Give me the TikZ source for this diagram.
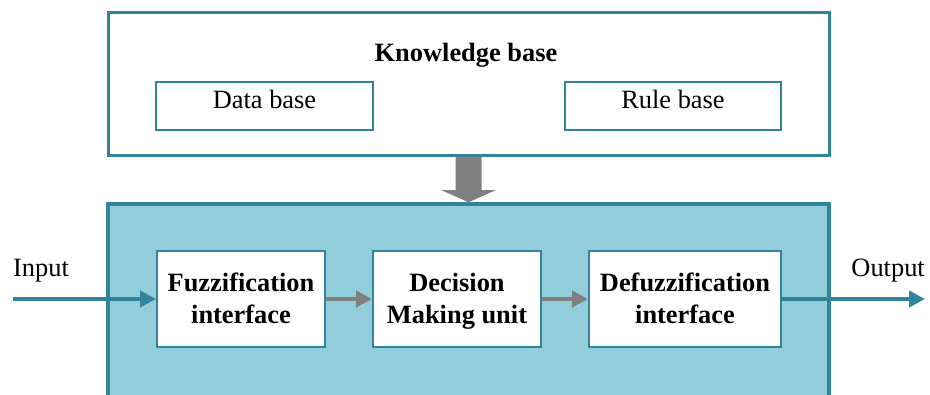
\documentclass[tikz,border=0pt]{standalone}
\usepackage{fontspec}
\setmainfont{Liberation Serif}
\usetikzlibrary{arrows.meta}

\definecolor{edgeteal}{HTML}{31849B}
\definecolor{procfill}{HTML}{92CDDC}
\definecolor{arrowgray}{HTML}{808080}

\tikzset{
  kbframe/.style={draw=edgeteal, line width=3pt, fill=white, inner sep=0pt},
  procframe/.style={draw=edgeteal, line width=3.5pt, fill=procfill, inner sep=0pt},
  subbox/.style={draw=edgeteal, line width=2pt, fill=white, inner sep=0pt,
    minimum height=48pt, text height=26.75pt, text depth=21.25pt},
  stagebox/.style={draw=edgeteal, line width=2pt, fill=white, inner sep=0pt,
    minimum height=96pt, text height=49.5pt, text depth=0pt, font=\bfseries},
  plainlabel/.style={inner sep=0pt},
  flow/.style={draw=edgeteal, line width=4pt, -{Triangle[length=16pt,width=16pt]}},
  link/.style={draw=arrowgray, line width=4pt, -{Triangle[length=16pt,width=16pt]}},
  bigarrow/.style={fill=arrowgray}
}

\newcommand{\twolines}[2]{\begin{tabular}[b]{@{}c@{}}#1\\#2\end{tabular}}

\begin{document}
\fontsize{26.4}{32}\selectfont
\begin{tikzpicture}[x=1pt, y=-1pt]
  \useasboundingbox (0,0) rectangle (930,394);
  \clip (0,0) rectangle (930,394);

  % inference block (runs past the lower edge)
  \node[procframe, minimum width=721pt, minimum height=196pt] (proc) at (468.5,302) {};

  % knowledge base with its two stores
  \node[kbframe, minimum width=721pt, minimum height=143pt] (kb) at (468.5,83.5) {};
  \node[plainlabel, anchor=base, font=\bfseries] (kbtitle) at (466,61) {Knowledge base};
  \node[subbox, minimum width=217pt] (data) at (264.5,106) {Data base};
  \node[subbox, minimum width=216pt] (rule) at (673,106) {Rule base};

  % knowledge base feeds the inference block
  \fill[bigarrow] ([xshift=-13pt]kb.south) -- ++(0,33.5) -- ++(-14.5,0)
    -- (proc.north) -- ++(27.5,-12.25) -- ++(-14.5,0)
    -- ([xshift=13pt]kb.south) -- cycle;

  % processing stages
  \node[stagebox, minimum width=168pt] (fuzz) at (241,299) {\twolines{Fuzzification}{interface}};
  \node[stagebox, minimum width=168pt] (dmu) at (457,299) {\twolines{Decision}{Making unit}};
  \node[stagebox, minimum width=192pt] (defuzz) at (685,299) {\twolines{Defuzzification}{interface}};

  % signal path
  \coordinate (in) at (13,299);
  \coordinate (out) at (925,299);
  \node[plainlabel, anchor=base west] (inlabel) at (13,276) {Input};
  \node[plainlabel, anchor=base east] (outlabel) at (925,276) {Output};

  \draw[flow] (in) -- (fuzz);
  \draw[link] (fuzz) -- (dmu);
  \draw[link] (dmu) -- (defuzz);
  \draw[flow] (defuzz) -- (out);
\end{tikzpicture}
\end{document}
